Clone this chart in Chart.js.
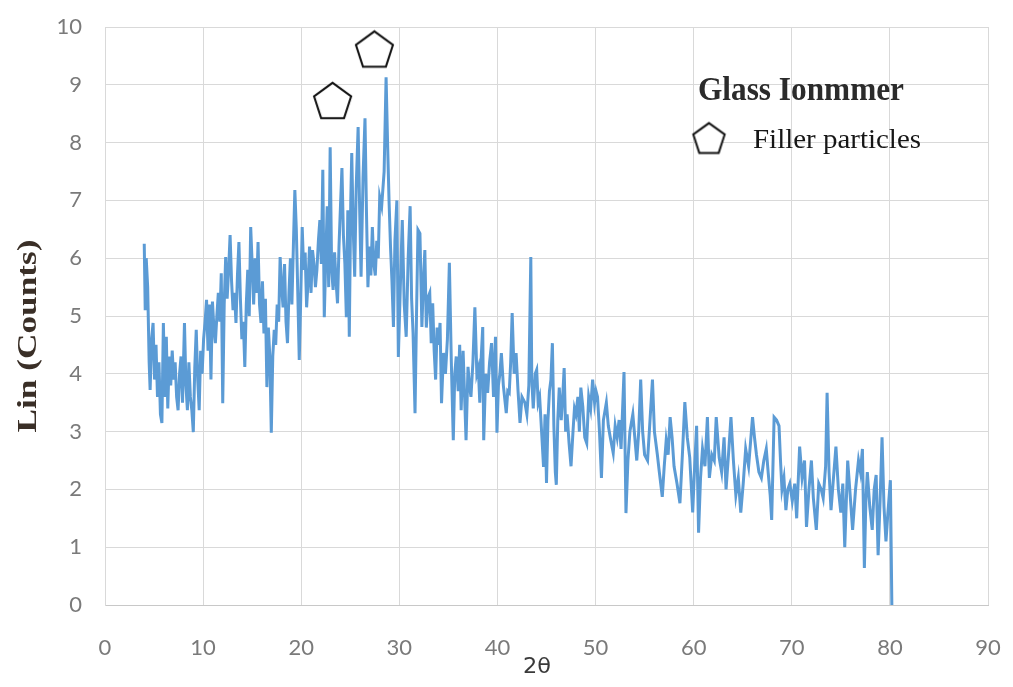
<!DOCTYPE html>
<html>
<head>
<meta charset="utf-8">
<script src="https://cdn.jsdelivr.net/npm/chart.js@4.4.1/dist/chart.umd.min.js"></script>
<style>
  html, body { margin: 0; padding: 0; background: #fff; }
  #wrap { width: 1013px; height: 687px; position: relative; }
</style>
</head>
<body>
<div id="wrap"><canvas id="xrd"></canvas></div>
<script>
// XRD pattern – Glass Ionmmer
const twoTheta = [
  4.0, 4.1, 4.2, 4.35, 4.5, 4.6, 4.75, 4.9, 5.05, 5.2,
  5.35, 5.5, 5.65, 5.8, 5.95, 6.1, 6.25, 6.4, 6.55, 6.7,
  6.85, 7.0, 7.15, 7.3, 7.45, 7.6, 7.75, 7.9, 8.1, 8.25,
  8.4, 8.55, 8.7, 8.85, 9.0, 9.15, 9.3, 9.45, 9.6, 9.75,
  9.9, 10.05, 10.2, 10.35, 10.5, 10.65, 10.8, 10.95, 11.1, 11.25,
  11.4, 11.55, 11.7, 11.85, 12.0, 12.15, 12.3, 12.45, 12.6, 12.75,
  12.9, 13.05, 13.2, 13.35, 13.5, 13.65, 13.8, 13.95, 14.1, 14.25,
  14.4, 14.55, 14.7, 14.85, 15.0, 15.15, 15.3, 15.45, 15.6, 15.75,
  15.9, 16.05, 16.2, 16.35, 16.5, 16.65, 16.8, 16.95, 17.1, 17.25,
  17.4, 17.55, 17.7, 17.85, 18.0, 18.15, 18.3, 18.45, 18.6, 18.75,
  18.9, 19.05, 19.2, 19.35, 19.5, 19.65, 19.8, 19.95, 20.1, 20.25,
  20.4, 20.55, 20.7, 20.85, 21.0, 21.15, 21.3, 21.45, 21.6, 21.75,
  21.9, 22.05, 22.2, 22.35, 22.5, 22.65, 22.8, 22.95, 23.1, 23.25,
  23.4, 23.55, 23.7, 23.85, 24.0, 24.15, 24.3, 24.45, 24.6, 24.75,
  24.9, 25.05, 25.15, 25.3, 25.45, 25.6, 25.8, 25.95, 26.1, 26.3,
  26.5, 26.65, 26.8, 26.95, 27.1, 27.25, 27.4, 27.55, 27.7, 27.85,
  28.0, 28.2, 28.45, 28.65, 28.8, 28.95, 29.1, 29.25, 29.4, 29.55,
  29.75, 29.9, 30.1, 30.3, 30.5, 30.7, 30.9, 31.1, 31.25, 31.4,
  31.6, 31.75, 31.9, 32.1, 32.3, 32.45, 32.6, 32.75, 32.95, 33.1,
  33.25, 33.4, 33.55, 33.7, 33.85, 34.0, 34.15, 34.3, 34.5, 34.7,
  34.9, 35.1, 35.3, 35.5, 35.65, 35.8, 36.0, 36.15, 36.3, 36.5,
  36.8, 37.0, 37.15, 37.3, 37.5, 37.7, 37.9, 38.05, 38.2, 38.35,
  38.5, 38.6, 38.8, 39.0, 39.2, 39.4, 39.6, 39.8, 39.95, 40.1,
  40.25, 40.4, 40.6, 40.9, 41.05, 41.2, 41.35, 41.5, 41.7, 41.9,
  42.1, 42.3, 42.5, 42.8, 43.0, 43.2, 43.4, 43.5, 43.65, 43.85,
  44.0, 44.15, 44.3, 44.5, 44.7, 44.85, 45.0, 45.15, 45.3, 45.45,
  45.6, 45.75, 45.9, 46.0, 46.15, 46.3, 46.5, 46.65, 46.8, 46.95,
  47.1, 47.3, 47.5, 47.7, 47.85, 48.0, 48.2, 48.35, 48.5, 48.7,
  48.9, 49.1, 49.3, 49.5, 49.7, 49.9, 50.05, 50.2, 50.4, 50.6,
  50.8, 51.1, 51.3, 51.5, 51.8, 52.0, 52.2, 52.4, 52.6, 52.9,
  53.1, 53.3, 53.5, 53.8, 54.0, 54.2, 54.4, 54.6, 54.8, 55.0,
  55.3, 55.55, 55.8, 56.0, 56.3, 56.5, 56.8, 57.0, 57.2, 57.4,
  57.6, 57.8, 58.0, 58.3, 58.6, 58.85, 59.1, 59.35, 59.6, 59.9,
  60.1, 60.3, 60.5, 60.7, 60.9, 61.15, 61.4, 61.6, 61.85, 62.1,
  62.3, 62.6, 62.85, 63.1, 63.3, 63.55, 63.8, 64.05, 64.3, 64.55,
  64.8, 65.05, 65.3, 65.6, 66.0, 66.2, 66.4, 66.65, 66.9, 67.15,
  67.4, 67.6, 67.8, 67.95, 68.2, 68.45, 68.7, 68.85, 69.0, 69.2,
  69.4, 69.6, 69.8, 70.05, 70.3, 70.5, 70.8, 71.05, 71.3, 71.5,
  71.75, 72.0, 72.2, 72.5, 72.75, 73.0, 73.2, 73.45, 73.6, 73.8,
  74.0, 74.25, 74.5, 74.75, 75.0, 75.2, 75.4, 75.7, 75.95, 76.2,
  76.5, 76.8, 77.0, 77.2, 77.4, 77.55, 77.7, 77.95, 78.2, 78.4,
  78.6, 78.8, 79.0, 79.2, 79.4, 79.6, 79.8, 80.05, 80.2,
];
const counts = [
  6.25, 5.1, 6.0, 5.5, 4.2, 3.72, 4.6, 4.88, 3.9, 4.5,
  3.6, 4.2, 3.3, 3.15, 4.88, 3.6, 4.64, 3.4, 4.3, 3.8,
  4.4, 3.9, 4.2, 3.6, 3.37, 4.0, 4.3, 3.5, 4.88, 3.8,
  3.37, 4.2, 3.6, 3.37, 2.99, 4.1, 4.76, 3.9, 3.37, 4.4,
  4.0, 4.6, 4.9, 5.28, 4.4, 5.2, 3.9, 5.25, 4.8, 4.53,
  5.0, 5.4, 4.9, 5.74, 3.49, 5.2, 6.02, 5.3, 5.8, 6.4,
  5.6, 5.1, 5.4, 4.88, 5.7, 6.28, 5.3, 4.6, 4.9, 4.12,
  5.2, 5.8, 5.0, 6.54, 5.9, 5.2, 6.0, 5.4, 6.28, 5.2,
  4.88, 5.6, 4.7, 5.3, 3.77, 4.8, 4.3, 2.98, 4.3, 4.76,
  4.5, 5.2, 4.9, 6.02, 5.5, 5.15, 5.9, 4.9, 4.53, 5.4,
  6.0, 5.2, 6.2, 7.18, 6.5, 5.4, 4.24, 5.3, 6.54, 5.8,
  6.1, 5.15, 5.6, 6.2, 5.4, 6.14, 5.9, 5.5, 5.8, 6.3,
  6.66, 5.9, 7.53, 4.98, 6.0, 6.9, 5.5, 7.92, 5.8, 5.45,
  6.1, 5.6, 5.22, 6.2, 6.9, 7.56, 6.4, 5.9, 4.98, 6.83,
  4.64, 7.0, 7.82, 6.5, 5.68, 7.2, 8.27, 6.9, 5.68, 7.4,
  8.42, 6.8, 5.5, 6.2, 5.7, 6.54, 5.9, 5.7, 6.3, 6.0,
  7.06, 6.9, 7.5, 9.13, 8.0, 7.0, 6.2, 5.6, 4.81, 6.3,
  7.0, 4.29, 5.5, 6.66, 5.2, 4.64, 6.0, 6.9, 5.3, 4.7,
  3.32, 5.0, 6.49, 6.43, 4.81, 5.6, 6.14, 4.8, 5.33, 5.4,
  4.53, 5.22, 4.4, 3.9, 4.8, 4.5, 4.88, 3.49, 4.36, 4.0,
  4.6, 5.92, 4.2, 2.85, 4.0, 4.3, 3.7, 4.5, 3.37, 4.4,
  2.85, 4.12, 3.8, 3.6, 4.2, 5.15, 4.0, 4.1, 3.5, 4.3,
  4.81, 2.85, 4.0, 3.67, 4.2, 4.53, 3.6, 4.64, 2.98, 3.8,
  4.0, 4.36, 3.8, 3.32, 3.7, 3.67, 4.2, 5.05, 4.0, 4.36,
  3.7, 3.15, 3.6, 3.5, 3.3, 3.8, 6.02, 3.9, 3.4, 4.0,
  4.07, 3.5, 3.6, 3.0, 2.39, 3.3, 2.11, 3.2, 3.7, 3.9,
  4.53, 3.1, 2.3, 2.08, 3.2, 3.76, 3.2, 3.6, 4.1, 3.0,
  3.3, 2.8, 2.4, 3.0, 3.4, 3.3, 3.6, 3.0, 3.76, 3.43,
  2.9, 2.8, 3.6, 3.4, 3.9, 3.5, 3.7, 3.6, 3.0, 2.2,
  3.2, 3.5, 3.1, 2.9, 2.63, 3.1, 2.9, 3.2, 2.7, 4.03,
  1.59, 2.5, 3.0, 3.3, 2.9, 2.5, 3.0, 3.9, 3.0, 2.6,
  2.5, 3.2, 3.9, 3.0, 2.6, 2.3, 1.87, 2.4, 2.85, 2.6,
  3.25, 2.9, 2.4, 2.1, 1.76, 2.6, 3.51, 2.9, 2.55, 1.6,
  2.4, 3.1, 1.25, 2.2, 2.7, 2.4, 3.25, 2.2, 2.6, 2.5,
  3.25, 2.55, 2.3, 2.9, 2.0, 2.6, 3.25, 2.5, 1.9, 2.2,
  1.6, 2.1, 2.7, 2.4, 3.25, 2.9, 2.6, 2.3, 2.2, 2.5,
  2.7, 2.28, 1.9, 1.47, 3.25, 3.2, 3.1, 2.5, 2.0, 2.2,
  1.64, 2.0, 2.1, 1.8, 2.1, 1.5, 2.74, 2.2, 2.5, 1.35,
  2.0, 2.5, 1.85, 1.3, 2.1, 2.0, 1.85, 2.4, 3.67, 2.3,
  1.64, 2.2, 2.74, 2.0, 1.6, 2.1, 1.0, 2.5, 1.9, 1.3,
  2.0, 2.5, 2.3, 2.7, 0.64, 1.8, 2.3, 1.7, 1.3, 2.0,
  2.25, 0.86, 1.8, 2.9, 1.7, 1.1, 1.6, 2.16, 0.0,
];

// filler particle markers (pentagons above the two main peaks)
const fillerTheta  = [23.2, 27.46];
const fillerCounts = [8.73, 9.62];

const X_MIN = 0, X_MAX = 90, X_STEP = 10;
const Y_MIN = 0, Y_MAX = 10, Y_STEP = 1;

function pentagon(R, lw) {
  const size = Math.ceil(2 * R + 2 * lw + 2);
  const c = document.createElement('canvas');
  c.width = c.height = size;
  const g = c.getContext('2d');
  const cx = size / 2, cy = size / 2 + 0.095 * R;
  g.beginPath();
  for (let k = 0; k < 5; k++) {
    const a = -Math.PI / 2 + k * 2 * Math.PI / 5;
    const px = cx + R * Math.cos(a), py = cy + R * Math.sin(a);
    k ? g.lineTo(px, py) : g.moveTo(px, py);
  }
  g.closePath();
  g.fillStyle = '#fff'; g.fill();
  g.lineWidth = lw; g.strokeStyle = '#111'; g.lineJoin = 'miter'; g.stroke();
  return c;
}
const PENTA = pentagon(19.5, 2);
const PENTA_SMALL = pentagon(16.5, 2);

// text stretched to a given width (the source fonts are wider than ours)
function fitText(ctx, txt, x, y, w, font, color, rot, align) {
  ctx.save();
  ctx.translate(x, y);
  if (rot) ctx.rotate(rot);
  ctx.font = font;
  const m = ctx.measureText(txt).width;
  ctx.scale(w / m, 1);
  ctx.fillStyle = color;
  ctx.textAlign = align || 'center';
  ctx.textBaseline = align === 'left' ? 'alphabetic' : 'middle';
  ctx.fillText(txt, 0, 0);
  ctx.restore();
}

const labelsPlugin = {
  id: 'labels',
  afterDraw(chart) {
    const ctx = chart.ctx;
    fitText(ctx, 'Lin (Counts)', 29, 336, 193, 'bold 28px "Liberation Serif"', '#3a2f27', -Math.PI / 2);
    fitText(ctx, '2θ', 537, 667, 28, '22px "DejaVu Sans"', '#3a3a3a');
    // legend box
    fitText(ctx, 'Glass Ionmmer', 698, 100, 206, 'bold 34px "Liberation Serif"', '#2b2b2b', 0, 'left');
    ctx.drawImage(PENTA_SMALL, 709 - PENTA_SMALL.width / 2, 138 - PENTA_SMALL.height / 2);
    fitText(ctx, 'Filler particles', 753, 148, 168, '27px "Liberation Serif"', '#161616', 0, 'left');
  }
};

new Chart(document.getElementById('xrd'), {
  type: 'scatter',
  data: {
    datasets: [
      {
        label: 'Filler particles',
        data: fillerTheta.map((x, i) => ({ x, y: fillerCounts[i] })),
        pointStyle: PENTA,
        pointRadius: 20,
        showLine: false,
        order: 0,
      },
      {
        label: 'Glass Ionmmer',
        data: twoTheta.map((x, i) => ({ x, y: counts[i] })),
        showLine: true,
        borderColor: '#5b9bd5',
        borderWidth: 3,
        pointRadius: 0,
        tension: 0,
        order: 1,
      },
    ],
  },
  options: {
    responsive: true, maintainAspectRatio: false,
    animation: false,
    layout: { padding: { left: 0, right: 25, top: 27, bottom: 0 } },
    plugins: { legend: { display: false }, tooltip: { enabled: false } },
    scales: {
      x: {
        type: 'linear', min: X_MIN, max: X_MAX,
        grid: { color: '#d9d9d9', drawTicks: false },
        border: { color: '#c8c8c8' },
        ticks: { stepSize: X_STEP, padding: 30, color: '#7a7a7a', font: { family: 'Lato', size: 22 } },
        afterFit: s => { s.height = 82; s.paddingLeft = 0; s.paddingRight = 0; },
      },
      y: {
        min: Y_MIN, max: Y_MAX,
        grid: { color: '#d9d9d9', drawTicks: false },
        border: { color: '#d9d9d9' },
        ticks: { stepSize: Y_STEP, padding: 23, color: '#7a7a7a', font: { family: 'Lato', size: 22 } },
        afterFit: s => { s.width = 105; s.paddingTop = 0; s.paddingBottom = 0; },
      },
    },
  },
  plugins: [labelsPlugin],
});
</script>
</body>
</html>
